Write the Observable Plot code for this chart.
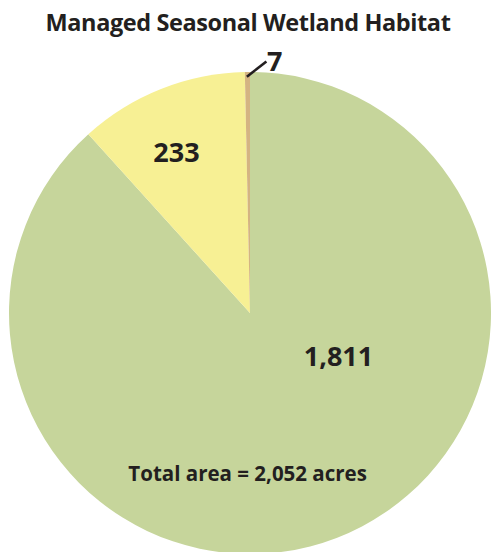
<!DOCTYPE html>
<html>
<head>
<meta charset="utf-8">
<script src="https://cdn.jsdelivr.net/npm/d3@7"></script>
<script src="https://cdn.jsdelivr.net/npm/@observablehq/plot@0.6"></script>
<style>
  html, body { margin: 0; padding: 0; background: #fff; }
  #wrap { width: 491px; height: 552px; overflow: hidden; }
  #title { height: 30px; padding-top: 7px; font-family: "Open Sans", sans-serif; font-weight: 700; font-size: 23.5px;
           color: #231f20; text-align: center; line-height: 30px; letter-spacing: -0.4px; padding-left: 5px; white-space: nowrap; }
  svg { display: block; }
</style>
</head>
<body>
<div id="wrap">
  <div id="title">Managed Seasonal Wetland Habitat</div>
  <div id="chart"></div>
</div>
<script>
const categories = ["Slice A", "Slice B", "Slice C"];
const values = [1811, 233, 7];
const valueLabels = ["1,811", "233", "7"];
const sliceColors = ["#c6d59b", "#f7f094", "#d4b482"];
const totalLabel = "Total area = 2,052 acres";

const data = categories.map((c, i) => ({category: c, value: values[i], label: valueLabels[i]}));
const color = Plot.scale({color: {type: "ordinal", domain: categories, range: sliceColors}});

const W = 491, H = 515;
const cx = 250, cy = 276, R = 241;

function pieMark(index, scales, vals, dims) {
  const x0 = scales.x(0), y0 = scales.y(0);
  const r = scales.x(1) - scales.x(0);
  const arcs = d3.pie().sort(null).value(d => d.value)(data);
  const arc = d3.arc().innerRadius(0).outerRadius(r);
  const g = d3.create("svg:g").attr("transform", `translate(${x0},${y0})`);
  g.selectAll("path").data(arcs).join("path")
    .attr("d", arc)
    .attr("fill", d => color.apply(d.data.category));
  return g.node();
}

const labelPos = [
  {x: 0.365, y: -0.183},
  {x: -0.307, y: 0.664},
  {x: 0.10, y: 1.041}
];

const chart = Plot.plot({
  width: W,
  height: H,
  margin: 0,
  x: {domain: [-1, 1], range: [cx - R, cx + R], axis: null},
  y: {domain: [-1, 1], range: [cy + R, cy - R], axis: null},
  marks: [
    pieMark,
    Plot.link([0], {x1: -0.015, y1: 0.982, x2: 0.066, y2: 1.046, stroke: "#231f20", strokeWidth: 2.6}),
    Plot.text(data, {
      x: (d, i) => labelPos[i].x,
      y: (d, i) => labelPos[i].y,
      text: "label",
      fontSize: 27,
      fontWeight: 700,
      fill: "#231f20",
      fontFamily: "Open Sans"
    }),
    Plot.text([totalLabel], {x: -0.012, y: -0.668, text: d => d, fontSize: 20.5, fontWeight: 700, fill: "#231f20", fontFamily: "Open Sans"})
  ]
});
document.getElementById("chart").appendChild(chart);
</script>
</body>
</html>
